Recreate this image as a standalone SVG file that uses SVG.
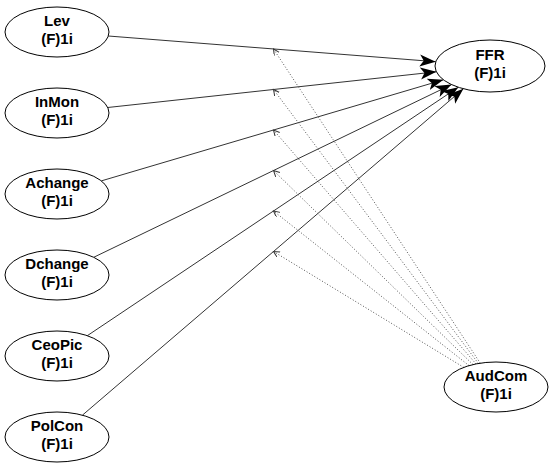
<svg xmlns="http://www.w3.org/2000/svg" width="550" height="469" viewBox="0 0 550 469">
<style>
.node ellipse{fill:#fff;stroke:#000;stroke-width:1}
.node text{font-family:"Liberation Sans",Arial,sans-serif;font-weight:bold;font-size:15px;text-anchor:middle;fill:#000}
.solid{stroke:#333;stroke-width:1;fill:none}
.dot{stroke:#555;stroke-width:1;stroke-dasharray:1 2;fill:none}
</style>
<defs>
<marker id="big" markerUnits="userSpaceOnUse" markerWidth="18" markerHeight="14" refX="16" refY="6" orient="auto">
<path d="M0,0 L16,6 L0,12 L4,6 Z" fill="#000"/>
</marker>
<marker id="small" markerUnits="userSpaceOnUse" markerWidth="8" markerHeight="8" refX="6" refY="3" orient="auto">
<path d="M0,0 L6,3 L0,6" fill="none" stroke="#333" stroke-width="1"/>
</marker>
</defs>
<g id="connectors">
<line class="solid" x1="108.3" y1="36" x2="435.7" y2="61.7" marker-end="url(#big)"/>
<line class="solid" x1="107.7" y1="107.5" x2="436.4" y2="71.8" marker-end="url(#big)"/>
<line class="solid" x1="101.3" y1="180.9" x2="443.4" y2="79.8" marker-end="url(#big)"/>
<line class="solid" x1="93.7" y1="257.3" x2="451.5" y2="84.6" marker-end="url(#big)"/>
<line class="solid" x1="87.3" y1="335.7" x2="458.3" y2="87.2" marker-end="url(#big)"/>
<line class="solid" x1="82.4" y1="415.2" x2="463.4" y2="88.8" marker-end="url(#big)"/>
<line class="dot" x1="480.3" y1="363.2" x2="273.5" y2="49" marker-end="url(#small)"/>
<line class="dot" x1="478.4" y1="363.5" x2="273.5" y2="89.5" marker-end="url(#small)"/>
<line class="dot" x1="476" y1="363.9" x2="273.5" y2="130" marker-end="url(#small)"/>
<line class="dot" x1="473" y1="364.6" x2="273.5" y2="170.5" marker-end="url(#small)"/>
<line class="dot" x1="469" y1="365.6" x2="273.5" y2="211" marker-end="url(#small)"/>
<line class="dot" x1="463.8" y1="367.4" x2="273.5" y2="251.5" marker-end="url(#small)"/>
</g>
<g id="Lev" class="node"><ellipse cx="57" cy="32" rx="52" ry="25"/><text x="57" y="26">Lev</text><text x="57" y="44">(F)1i</text></g>
<g id="InMon" class="node"><ellipse cx="57" cy="113" rx="52" ry="25"/><text x="57" y="107">InMon</text><text x="57" y="125">(F)1i</text></g>
<g id="Achange" class="node"><ellipse cx="57" cy="194" rx="52" ry="25"/><text x="57" y="188">Achange</text><text x="57" y="206">(F)1i</text></g>
<g id="Dchange" class="node"><ellipse cx="57" cy="275" rx="52" ry="25"/><text x="57" y="269">Dchange</text><text x="57" y="287">(F)1i</text></g>
<g id="CeoPic" class="node"><ellipse cx="57" cy="356" rx="52" ry="25"/><text x="57" y="350">CeoPic</text><text x="57" y="368">(F)1i</text></g>
<g id="PolCon" class="node"><ellipse cx="57" cy="437" rx="52" ry="25"/><text x="57" y="431">PolCon</text><text x="57" y="449">(F)1i</text></g>
<g id="FFR" class="node"><ellipse cx="490" cy="66" rx="55" ry="26"/><text x="490" y="60">FFR</text><text x="490" y="78">(F)1i</text></g>
<g id="AudCom" class="node"><ellipse cx="496" cy="387" rx="52" ry="25"/><text x="496" y="381">AudCom</text><text x="496" y="399">(F)1i</text></g>
</svg>
